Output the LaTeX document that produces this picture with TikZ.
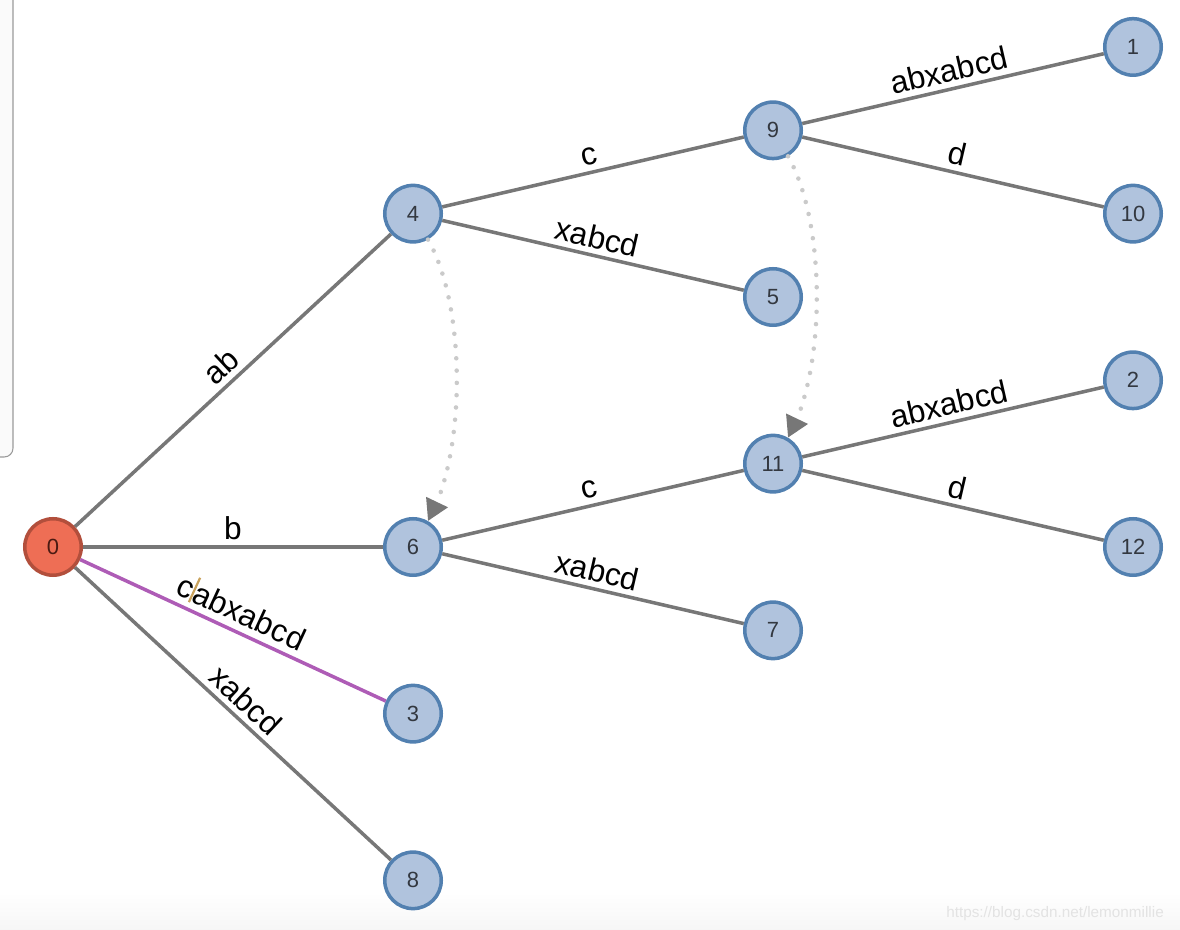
\documentclass[tikz,border=0pt]{standalone}
\usepackage{fontspec}
\setmainfont{Liberation Sans}
\usetikzlibrary{arrows.meta, automata, bending, positioning}

\definecolor{edgegray}{HTML}{777777}
\definecolor{pathpurple}{HTML}{AE5CB6}
\definecolor{nodefill}{HTML}{B0C3DD}
\definecolor{nodeblue}{HTML}{5280B0}
\definecolor{numgray}{HTML}{333840}
\definecolor{rootfill}{HTML}{EE6E55}
\definecolor{rootborder}{HTML}{B24F3C}
\definecolor{rootnum}{HTML}{4A1A12}
\definecolor{dotgray}{HTML}{CACACA}
\definecolor{tipgray}{HTML}{777777}
\definecolor{cursortan}{HTML}{C9A25C}
\definecolor{panelfill}{HTML}{FAFAFA}
\definecolor{panelgray}{HTML}{9A9A9A}

\begin{document}
\begin{tikzpicture}[on grid, node distance=1.667cm and 7.2cm,
    every state/.style={circle, draw=nodeblue, fill=nodefill, line width=2pt,
        minimum size=1.13cm, inner sep=0pt, text=numgray,
        font=\fontsize{12.5}{12.5}\selectfont},
    root/.style={draw=rootborder, fill=rootfill, text=rootnum},
    link/.style={draw=edgegray, line width=2pt},
    lbl/.style={above, sloped, inner sep=3pt, text=black,
        font=\fontsize{18}{18}\selectfont},
    suffix/.style={draw=dotgray, line width=2.6pt, line cap=round,
        dash pattern=on 0pt off 7pt,
        -{Triangle[length=0.42cm, width=0.46cm, color=tipgray]}}]
    \useasboundingbox (0,0) rectangle (23.6,-18.6);

    % side panel and footer
    \draw[fill=panelfill, draw=panelgray, line width=0.6pt, rounded corners=5pt]
        (-0.2,0.2) rectangle (0.26,-9.14);
    \shade[top color=white, bottom color=gray!7] (0,-17.85) rectangle (23.6,-18.6);
    \node[anchor=base east, text=gray!22, font=\fontsize{8.7}{9}\selectfont]
        (mark) at (23.4,-18.36) {https://blog.csdn.net/lemonmillie};

    \node[state, root] (s0) at (1.06,-10.94) {0};
    \node[state] (s4)  [above right=6.667cm and 7.2cm of s0] {4};
    \node[state] (s6)  [right=of s0]                         {6};
    \node[state] (s3)  [below right=3.333cm and 7.2cm of s0] {3};
    \node[state] (s8)  [below right=6.667cm and 7.2cm of s0] {8};
    \node[state] (s9)  [above right=of s4]  {9};
    \node[state] (s5)  [below right=of s4]  {5};
    \node[state] (s11) [above right=of s6]  {11};
    \node[state] (s7)  [below right=of s6]  {7};
    \node[state] (s1)  [above right=of s9]  {1};
    \node[state] (s10) [below right=of s9]  {10};
    \node[state] (s2)  [above right=of s11] {2};
    \node[state] (s12) [below right=of s11] {12};

    \path[link] (s0) edge node[lbl] {ab} (s4)
        (s0) edge node[lbl] {b} (s6)
        (s0) edge[draw=pathpurple] node[lbl]
            {c\textcolor{cursortan}{\rule[-0.05em]{0.07em}{0.85em}}abxabcd} (s3)
        (s0) edge node[lbl] {xabcd} (s8)
        (s4) edge node[lbl] {c} (s9)
        (s4) edge node[lbl] {xabcd} (s5)
        (s6) edge node[lbl] {c} (s11)
        (s6) edge node[lbl] {xabcd} (s7)
        (s9) edge node[lbl] {abxabcd} (s1)
        (s9) edge node[lbl] {d} (s10)
        (s11) edge node[lbl] {abxabcd} (s2)
        (s11) edge node[lbl] {d} (s12)
        ;

    % suffix links
    \path[suffix] (s4) edge[bend left=30, looseness=0.7] (s6)
        (s9) edge[bend left=30, looseness=0.7] (s11);
\end{tikzpicture}
\end{document}
